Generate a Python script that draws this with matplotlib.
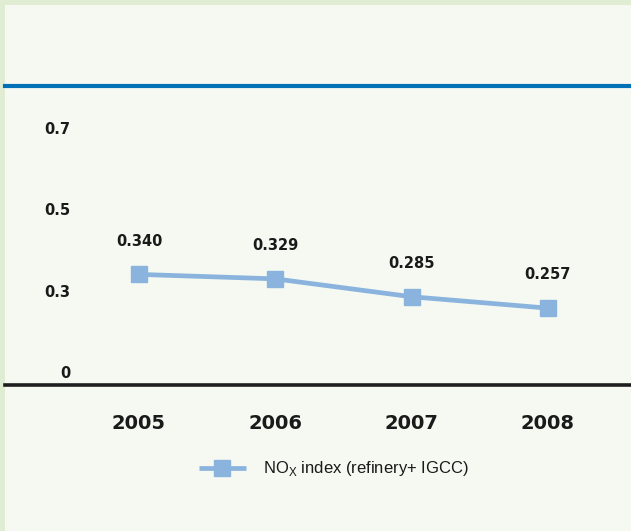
import matplotlib
matplotlib.use("Agg")
import matplotlib.pyplot as plt
from matplotlib.patches import Rectangle

years = [2005, 2006, 2007, 2008]
nox_index = [0.340, 0.329, 0.285, 0.257]
value_labels = ["0.340", "0.329", "0.285", "0.257"]
ytick_pos = [0.1, 0.3, 0.5, 0.7]
ytick_labels = ["0", "0.3", "0.5", "0.7"]
series_name = r"NO$_\mathregular{X}$ index (refinery+ IGCC)"

W, H = 631, 531
fig = plt.figure(figsize=(W / 100, H / 100), dpi=100)
fig.patch.set_facecolor("#e0edd3")
# pale panel inside the green frame
fig.add_artist(Rectangle((5 / W, 0), 1 - 5 / W, 1 - 5 / H, transform=fig.transFigure,
                         facecolor="#f6f9f1", edgecolor="none", zorder=0))

ax = fig.add_axes([5 / W, (H - 385) / H, (W - 5) / W, (385 - 85.5) / H])
ax.set_facecolor("none")

line_col = "#8ab4de"
txt_col = "#1a1a1a"
ax.plot(years, nox_index, color=line_col, lw=3.4, marker="s", ms=12,
        mec=line_col, mfc=line_col, label=series_name, solid_capstyle="butt")

for x, y, s in zip(years, nox_index, value_labels):
    ax.annotate(s, (x, y), xytext=(0, 24), textcoords="offset points",
                ha="center", va="center", fontsize=10.5, fontweight="bold",
                color=txt_col)

ax.set_xlim(2004.017, 2008.61)
ax.set_ylim(0.068, 0.8045)
ax.set_xticks(years)
ax.set_xticklabels([str(y) for y in years], fontsize=14, fontweight="bold", color=txt_col)
ax.set_yticks(ytick_pos)
ax.set_yticklabels(ytick_labels, fontsize=10.5, fontweight="bold", color=txt_col)
ax.tick_params(axis="x", length=0, pad=21)
ax.tick_params(axis="y", length=0, pad=-47)
for lab in ax.get_yticklabels():
    lab.set_horizontalalignment("right")

for side in ["left", "right"]:
    ax.spines[side].set_visible(False)
ax.spines["top"].set_color("#0071b6")
ax.spines["top"].set_linewidth(3)
ax.spines["bottom"].set_color("#1e1e1e")
ax.spines["bottom"].set_linewidth(2.6)

leg = ax.legend(loc="center left", bbox_to_anchor=(199 / W, 1 - 469 / H),
                bbox_transform=fig.transFigure, frameon=False, handlelength=2.8,
                handletextpad=1.05, borderpad=0, borderaxespad=0,
                prop={"family": ["Liberation Sans Narrow", "Liberation Sans"], "size": 12})
for t in leg.get_texts():
    t.set_color(txt_col)

fig.savefig("out.png", dpi=100, facecolor=fig.get_facecolor())
